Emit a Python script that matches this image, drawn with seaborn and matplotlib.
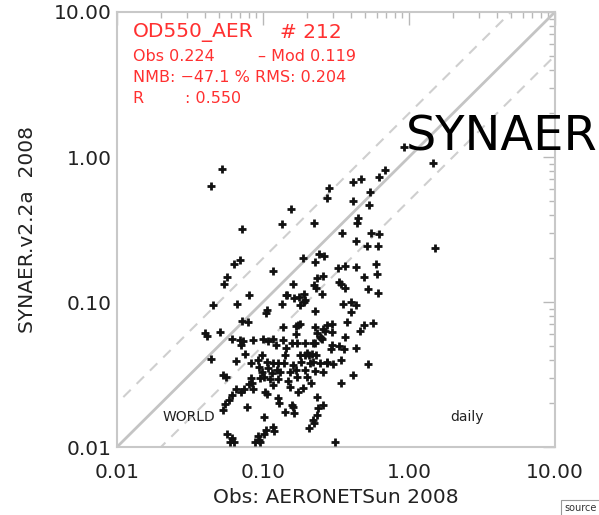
import numpy as np
import pandas as pd
import matplotlib
matplotlib.use("Agg")
import matplotlib.pyplot as plt
import matplotlib.ticker as mticker
import seaborn as sns

# Observed (AERONETSun 2008) vs model (SYNAER.v2.2a 2008) AOD at 550 nm
obs = [
    0.052, 0.044, 0.155, 0.072, 0.135, 0.223, 0.283, 0.275, 0.92, 1.45,
    0.413, 0.469, 0.623, 0.685, 0.541, 0.413, 0.532, 0.448, 0.441, 0.348,
    0.55, 0.623, 0.434, 0.516, 0.613, 1.51, 0.327, 0.365, 0.434, 0.594,
    0.604, 0.492, 0.332, 0.342, 0.365, 0.524, 0.613, 0.353, 0.40, 0.434,
    0.40, 0.297, 0.377, 0.492, 0.567, 0.462, 0.188, 0.242, 0.262, 0.227,
    0.0696, 0.0633, 0.117, 0.0568, 0.0541, 0.234, 0.258, 0.231, 0.223, 0.161,
    0.0802, 0.146, 0.163, 0.191, 0.194, 0.179, 0.254, 0.0455, 0.0664, 0.135,
    0.106, 0.105, 0.227, 0.0718, 0.079, 0.137, 0.169, 0.179, 0.227, 0.275,
    0.040, 0.0508, 0.258, 0.297, 0.0413, 0.0613, 0.0707, 0.073, 0.0854, 0.0998,
    0.117, 0.123, 0.158, 0.171, 0.194, 0.169, 0.234, 0.227, 0.254, 0.0753,
    0.0653, 0.0441, 0.0828, 0.0924, 0.106, 0.117, 0.127, 0.141, 0.108, 0.125,
    0.0938, 0.0983, 0.116, 0.131, 0.161, 0.169, 0.179, 0.194, 0.207, 0.231,
    0.182, 0.21, 0.246, 0.275, 0.194, 0.227, 0.258, 0.171, 0.20, 0.213,
    0.112, 0.127, 0.148, 0.0953, 0.117, 0.0828, 0.0532, 0.0559, 0.0802, 0.0841,
    0.0854, 0.0741, 0.0707, 0.153, 0.174, 0.103, 0.106, 0.0613, 0.0585, 0.055,
    0.0532, 0.127, 0.129, 0.234, 0.0777, 0.141, 0.161, 0.163, 0.238, 0.234,
    0.101, 0.22, 0.207, 0.0568, 0.0613, 0.0633, 0.0924, 0.0953, 0.105, 0.117,
    0.119, 0.101, 0.297, 0.332, 0.359, 0.434, 0.293, 0.20, 0.217, 0.22,
    0.275, 0.302, 0.342, 0.524, 0.413, 0.342, 0.258, 0.223, 0.311, 0.25,
    0.246, 0.22, 0.137, 0.0696, 0.108, 0.144, 0.176, 0.191, 0.0938, 0.0882,
    0.0594, 0.158, 0.101, 0.144, 0.174, 0.266, 0.0653, 0.139, 0.0983, 0.153,
    0.188, 0.365,
]
mod = [
    0.83, 0.63, 0.44, 0.32, 0.345, 0.35, 0.61, 0.52, 1.17, 0.91,
    0.672, 0.705, 0.728, 0.813, 0.574, 0.497, 0.467, 0.38, 0.351, 0.299,
    0.299, 0.295, 0.264, 0.244, 0.244, 0.236, 0.171, 0.177, 0.174, 0.183,
    0.156, 0.149, 0.138, 0.133, 0.125, 0.123, 0.116, 0.097, 0.0998, 0.0953,
    0.0854, 0.0705, 0.0728, 0.0694, 0.0716, 0.0631, 0.201, 0.214, 0.208, 0.189,
    0.195, 0.183, 0.163, 0.149, 0.133, 0.147, 0.151, 0.125, 0.131, 0.133,
    0.112, 0.112, 0.106, 0.114, 0.103, 0.0953, 0.114, 0.0953, 0.0968, 0.0968,
    0.0881, 0.084, 0.0867, 0.0739, 0.0728, 0.0672, 0.0683, 0.0705, 0.0672, 0.0694,
    0.0611, 0.0621, 0.0651, 0.0621, 0.0583, 0.0556, 0.0505, 0.0538, 0.0547, 0.0556,
    0.0556, 0.0505, 0.0521, 0.0521, 0.0521, 0.0601, 0.0611, 0.0521, 0.0556, 0.0438,
    0.0392, 0.0404, 0.038, 0.0398, 0.0386, 0.038, 0.038, 0.0431, 0.0351, 0.034,
    0.0357, 0.0329, 0.0324, 0.0329, 0.0368, 0.034, 0.0431, 0.0431, 0.0431, 0.0431,
    0.0386, 0.038, 0.038, 0.0386, 0.034, 0.0335, 0.0329, 0.0304, 0.0304, 0.0277,
    0.0295, 0.0295, 0.0285, 0.0299, 0.0268, 0.0299, 0.0314, 0.0304, 0.0272, 0.0277,
    0.0251, 0.0251, 0.0239, 0.026, 0.0239, 0.0239, 0.0232, 0.0228, 0.0211, 0.0198,
    0.018, 0.0218, 0.0201, 0.0221, 0.0189, 0.0174, 0.0189, 0.0171, 0.0186, 0.0166,
    0.0161, 0.0154, 0.0135, 0.0123, 0.0116, 0.0109, 0.0119, 0.0109, 0.0131, 0.0138,
    0.0129, 0.0123, 0.0505, 0.0497, 0.0474, 0.0482, 0.0474, 0.0445, 0.0438, 0.0386,
    0.038, 0.0374, 0.0398, 0.0374, 0.0314, 0.0277, 0.0195, 0.0147, 0.0109, 0.0565,
    0.0574, 0.0521, 0.0547, 0.0547, 0.0538, 0.0482, 0.109, 0.0998, 0.0112, 0.0108,
    0.0109, 0.0195, 0.0304, 0.112, 0.0694, 0.0631, 0.0251, 0.038, 0.0431, 0.0329,
    0.0255, 0.0574,
]
tick_values = [0.01, 0.1, 1.0, 10.0]
tick_labels = ["0.01", "0.10", "1.00", "10.00"]
title_left = "OD550_AER"
title_right = "# 212"
stat_obs = "Obs 0.224"
stat_mod = "\u2013 Mod 0.119"
stat_nmb = "NMB: \u221247.1 % RMS: 0.204"
stat_r_name = "R"
stat_r_val = ": 0.550"

df = pd.DataFrame({"obs": obs, "mod": mod})

sns.set_style("white")
plt.rcParams["font.family"] = ["DejaVu Sans"]

fig = plt.figure(figsize=(5.99, 5.15), dpi=100)
ax = fig.add_axes([0.1953, 0.132, 0.7312, 0.8447])

ax.set_xscale("log")
ax.set_yscale("log")
ax.set_xlim(0.01, 10)
ax.set_ylim(0.01, 10)

ref = np.array([0.001, 100.0])
ax.plot(ref, ref, color="#c4c4c4", lw=2.0, zorder=1)
ax.plot(ref, 2 * ref, color="#cfcfcf", lw=1.5, ls=(0, (5, 4)), zorder=1)
ax.plot(ref, ref / 2, color="#cfcfcf", lw=1.5, ls=(0, (5, 4)), zorder=1)

sns.scatterplot(data=df, x="obs", y="mod", ax=ax, marker="+", s=40,
                color="#111111", linewidth=2.0, zorder=3, legend=False)

ax.xaxis.set_major_locator(mticker.FixedLocator(tick_values))
ax.yaxis.set_major_locator(mticker.FixedLocator(tick_values))
ax.xaxis.set_major_formatter(mticker.FixedFormatter(tick_labels))
ax.yaxis.set_major_formatter(mticker.FixedFormatter(tick_labels))
ax.xaxis.set_minor_locator(mticker.LogLocator(base=10, subs=np.arange(2, 10)))
ax.yaxis.set_minor_locator(mticker.LogLocator(base=10, subs=np.arange(2, 10)))
ax.xaxis.set_minor_formatter(mticker.NullFormatter())
ax.yaxis.set_minor_formatter(mticker.NullFormatter())

ax.tick_params(which="both", direction="in", top=True, right=True,
               color="#b8b8b8", width=1.0, labelsize=14.5, labelcolor="#222222")
ax.tick_params(axis="x", which="major", length=9, pad=11.5)
ax.tick_params(axis="y", which="major", length=9, pad=4)
ax.tick_params(which="minor", length=4.5)
for sp in ax.spines.values():
    sp.set_color("#c8c8c8")
    sp.set_linewidth(1.5)

ax.set_xlabel("Obs: AERONETSun 2008", fontsize=14.5, color="#222222", labelpad=4)
ax.set_ylabel("SYNAER.v2.2a  2008", fontsize=14.5, color="#222222", labelpad=12)

red = "#ff3030"
ax.text(0.036, 0.952, title_left, transform=ax.transAxes,
        color=red, fontsize=14.5, va="center", ha="left")
ax.text(0.372, 0.952, title_right, transform=ax.transAxes,
        color=red, fontsize=14.5, va="center", ha="left")
ax.text(0.036, 0.897, stat_obs, transform=ax.transAxes, color=red,
        fontsize=11.5, va="center", ha="left")
ax.text(0.322, 0.897, stat_mod, transform=ax.transAxes, color=red,
        fontsize=11.5, va="center", ha="left")
ax.text(0.036, 0.849, stat_nmb, transform=ax.transAxes, color=red,
        fontsize=11.5, va="center", ha="left")
ax.text(0.036, 0.802, stat_r_name, transform=ax.transAxes, color=red,
        fontsize=11.5, va="center", ha="left")
ax.text(0.155, 0.802, stat_r_val, transform=ax.transAxes, color=red,
        fontsize=11.5, va="center", ha="left")

ax.text(0.103, 0.070, "WORLD", transform=ax.transAxes, fontsize=10,
        color="#222222", va="center", ha="left")
ax.text(0.76, 0.070, "daily", transform=ax.transAxes, fontsize=10,
        color="#222222", va="center", ha="left")

fig.text(0.678, 0.734, "SYNAER", fontsize=34.5, color="black",
         va="center", ha="left")
fig.text(0.942, 0.004, "source", fontsize=7, color="#333333",
         va="bottom", ha="left",
         bbox=dict(boxstyle="square,pad=0.3", fc="white", ec="#999999", lw=0.8))

fig.savefig("out.png", dpi=100)
